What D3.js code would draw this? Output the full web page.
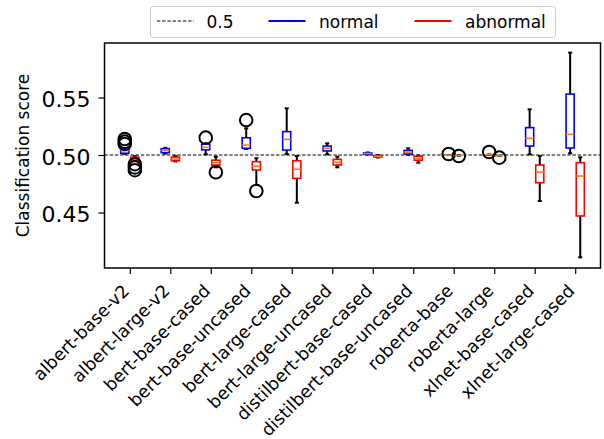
<!DOCTYPE html>
<html><head><meta charset="utf-8">
<script src="https://cdn.jsdelivr.net/npm/d3@7"></script>
<style>
html,body{margin:0;padding:0;background:#fff;}
svg{display:block;font-family:"DejaVu Sans",sans-serif;}
</style></head>
<body>
<svg id="c" width="604" height="439"></svg>
<script>
const categories = ["albert-base-v2","albert-large-v2","bert-base-cased","bert-base-uncased","bert-large-cased","bert-large-uncased","distilbert-base-cased","distilbert-base-uncased","roberta-base","roberta-large","xlnet-base-cased","xlnet-large-cased"];

const normalLo  = [0.5010,0.5012,0.5006,0.5052,0.5009,0.5006,0.5004,0.5002,0.5000,0.5003,0.5006,0.5015];
const normalQ1  = [0.5015,0.5020,0.5045,0.5058,0.5043,0.5035,0.5008,0.5008,0.5000,0.5003,0.5078,0.5061];
const normalMed = [0.5038,0.5040,0.5067,0.5087,0.5136,0.5058,0.5013,0.5024,0.5000,0.5003,0.5145,0.5180];
const normalQ3  = [0.5052,0.5055,0.5095,0.5150,0.5203,0.5078,0.5018,0.5040,0.5000,0.5003,0.5238,0.5530];
const normalHi  = [0.5060,0.5062,0.5102,0.5232,0.5406,0.5101,0.5022,0.5058,0.5000,0.5003,0.5397,0.5890];
const normalFliers = [[0.5139,0.5116,0.5096],[],[0.5151],[0.5304],[],[],[],[],[0.5009],[0.5026],[],[]];

const abnormalLo  = [0.4948,0.4945,0.4893,0.4740,0.4585,0.4893,0.4978,0.4933,0.4996,0.4993,0.4600,0.4110];
const abnormalQ1  = [0.4955,0.4950,0.4912,0.4870,0.4797,0.4913,0.4982,0.4955,0.4996,0.4993,0.4759,0.4470];
const abnormalMed = [0.4968,0.4964,0.4933,0.4904,0.4876,0.4939,0.4988,0.4971,0.4996,0.4993,0.4852,0.4817];
const abnormalQ3  = [0.4982,0.4982,0.4955,0.4942,0.4950,0.4962,0.4995,0.4990,0.4996,0.4993,0.4913,0.4933];
const abnormalHi  = [0.4990,0.4990,0.4985,0.4972,0.4991,0.4985,0.5000,0.4995,0.4996,0.4993,0.4991,0.4980];
const abnormalFliers = [[0.4920,0.4892,0.4868],[],[0.4850],[0.4687],[],[],[],[],[0.4991],[0.4977],[],[]];

const yTicks = [0.45, 0.50, 0.55];
const refValue = 0.5;
const legendLabels = ["0.5","normal","abnormal"];

const svg = d3.select("#c");
const L = 104.5, R = 600.5, T = 43, B = 268;
const x = d3.scaleLinear().domain([0.375, 12.625]).range([L, R]);
const y = d3.scaleLinear().domain([0.5 - 113/1150, 0.5 + 112/1150]).range([B, T]);

const off = 0.125, bw = 0.2;
const dash = "3.4,1.8";

// reference line
svg.append("line").attr("x1", L).attr("x2", R).attr("y1", y(refValue)).attr("y2", y(refValue))
  .attr("stroke", "#000").attr("stroke-width", 1).attr("stroke-dasharray", dash);

function drawGroup(lo, q1, med, q3, hi, fl, shift, color) {
  categories.forEach((c, i) => {
    const p = i + 1 + shift;
    const cx = x(p);
    const hw = (x(p + bw/2) - x(p - bw/2)) / 2;
    const g = svg.append("g");
    g.append("line").attr("x1", cx).attr("x2", cx).attr("y1", y(q1[i])).attr("y2", y(lo[i])).attr("stroke", "#000").attr("stroke-width", 2);
    g.append("line").attr("x1", cx).attr("x2", cx).attr("y1", y(q3[i])).attr("y2", y(hi[i])).attr("stroke", "#000").attr("stroke-width", 2);
    g.append("line").attr("x1", cx - hw/2).attr("x2", cx + hw/2).attr("y1", y(lo[i])).attr("y2", y(lo[i])).attr("stroke", "#000").attr("stroke-width", 2);
    g.append("line").attr("x1", cx - hw/2).attr("x2", cx + hw/2).attr("y1", y(hi[i])).attr("y2", y(hi[i])).attr("stroke", "#000").attr("stroke-width", 2);
    g.append("rect").attr("x", cx - hw).attr("width", 2*hw)
      .attr("y", y(q3[i])).attr("height", Math.max(0, y(q1[i]) - y(q3[i])))
      .attr("fill", "none").attr("stroke", color).attr("stroke-width", 1.6);
    g.append("line").attr("x1", cx - hw).attr("x2", cx + hw).attr("y1", y(med[i])).attr("y2", y(med[i]))
      .attr("stroke", "#ff7f0e").attr("stroke-width", 1.6);
    fl[i].forEach(v => {
      g.append("circle").attr("cx", cx).attr("cy", y(v)).attr("r", 6.3)
        .attr("fill", "none").attr("stroke", "#000").attr("stroke-width", 2);
    });
  });
}
drawGroup(normalLo, normalQ1, normalMed, normalQ3, normalHi, normalFliers, -off, "#0000ff");
drawGroup(abnormalLo, abnormalQ1, abnormalMed, abnormalQ3, abnormalHi, abnormalFliers, off, "#ff0000");

// frame
svg.append("rect").attr("x", L).attr("y", T).attr("width", R - L).attr("height", B - T)
  .attr("fill", "none").attr("stroke", "#000").attr("stroke-width", 1.5);

// y axis
const yAxis = d3.axisLeft(y).tickValues(yTicks).tickFormat(d3.format(".2f")).tickSize(6).tickPadding(8);
const ya = svg.append("g").attr("transform", `translate(${L},0)`).call(yAxis);
ya.select(".domain").remove();
ya.selectAll(".tick line").attr("stroke-width", 1.2);
ya.selectAll(".tick text").attr("font-size", 22).attr("font-family", "DejaVu Sans").attr("fill", "#000").attr("dy", "0.43em");

// x axis
const xAxis = d3.axisBottom(x).tickValues(d3.range(1, categories.length + 1)).tickFormat(d => categories[d - 1]).tickSize(6);
const xa = svg.append("g").attr("transform", `translate(0,${B})`).call(xAxis);
xa.select(".domain").remove();
xa.selectAll(".tick line").attr("stroke-width", 1.2);
xa.selectAll(".tick text").attr("font-size", 17.5).attr("font-family", "DejaVu Sans").attr("fill", "#000")
  .attr("text-anchor", "end").attr("dy", null).attr("y", null)
  .attr("transform", "translate(0,24) rotate(-45)");

// y label
svg.append("text").attr("transform", `translate(29,${(T + B) / 2}) rotate(-90)`)
  .attr("text-anchor", "middle").attr("font-size", 17).attr("fill", "#000").text("Classification score");

// legend
const lg = svg.append("g");
lg.append("rect").attr("x", 150.5).attr("y", 6.5).attr("width", 405).attr("height", 31).attr("rx", 3)
  .attr("fill", "#fff").attr("stroke", "#cccccc").attr("stroke-width", 1);
const items = [
  {x0: 157, tx: 206.5, color: "#000", w: 1, dash: dash},
  {x0: 268.5, tx: 319, color: "#0000ff", w: 2.2, dash: null},
  {x0: 414.5, tx: 465, color: "#ff0000", w: 2.2, dash: null}
];
items.forEach((it, k) => {
  lg.append("line").attr("x1", it.x0).attr("x2", it.x0 + 37).attr("y1", 21).attr("y2", 21)
    .attr("stroke", it.color).attr("stroke-width", it.w).attr("stroke-dasharray", it.dash);
  lg.append("text").attr("x", it.tx).attr("y", 28).attr("font-size", 17).attr("fill", "#000").text(legendLabels[k]);
});
</script>
</body></html>
